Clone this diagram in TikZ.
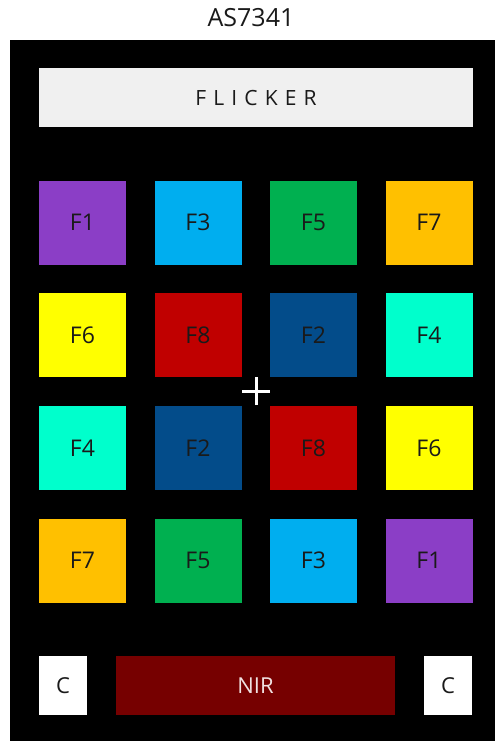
\documentclass[tikz,border=0pt]{standalone}
\usepackage{fontspec}
\setmainfont{Open Sans}
\newfontfamily\spaced[LetterSpace=34]{Open Sans}
\definecolor{cF1}{HTML}{8B3EC6}
\definecolor{cF2}{HTML}{034C8A}
\definecolor{cF3}{HTML}{00AEEF}
\definecolor{cF4}{HTML}{00FFCC}
\definecolor{cF5}{HTML}{00B050}
\definecolor{cF6}{HTML}{FFFF00}
\definecolor{cF7}{HTML}{FFC000}
\definecolor{cF8}{HTML}{C00000}
\definecolor{cNIR}{HTML}{760000}
\definecolor{cFL}{HTML}{F0F0F0}
\definecolor{txt}{HTML}{1A1A1A}
\begin{document}
\begin{tikzpicture}[x=1pt,y=-1pt,
  lab/.style={text height=16pt,text depth=0pt},
  filt/.style={rectangle,inner sep=0pt,minimum width=87pt,minimum height=84pt,text=txt,lab,font=\fontsize{23}{27}\selectfont},
  cbox/.style={rectangle,fill=white,inner sep=0pt,minimum width=48pt,minimum height=59pt,text=txt,lab,font=\fontsize{22}{26}\selectfont}]
\useasboundingbox (0,0) rectangle (495,741);
\fill[white] (0,0) rectangle (495,741);
\node[font=\fontsize{25}{30}\selectfont,text=txt] (title) at (251,18) {AS7341};
\fill[black] (10,40) rectangle (495,741);
\node[rectangle,fill=cFL,inner sep=0pt,minimum width=434pt,minimum height=59pt,text=txt,lab,font=\fontsize{21}{25}\selectfont\spaced] (flicker) at (256,97.5) {FLICKER};
% row 1
\node[filt,fill=cF1] (r1c1) at (82.5,222.5) {F1};
\node[filt,fill=cF3] (r1c2) at (198,222.5) {F3};
\node[filt,fill=cF5] (r1c3) at (313.5,222.5) {F5};
\node[filt,fill=cF7] (r1c4) at (429,222.5) {F7};
% row 2
\node[filt,fill=cF6] (r2c1) at (82.5,335) {F6};
\node[filt,fill=cF8] (r2c2) at (198,335) {F8};
\node[filt,fill=cF2] (r2c3) at (313.5,335) {F2};
\node[filt,fill=cF4] (r2c4) at (429,335) {F4};
% row 3
\node[filt,fill=cF4] (r3c1) at (82.5,448) {F4};
\node[filt,fill=cF2] (r3c2) at (198,448) {F2};
\node[filt,fill=cF8] (r3c3) at (313.5,448) {F8};
\node[filt,fill=cF6] (r3c4) at (429,448) {F6};
% row 4
\node[filt,fill=cF7] (r4c1) at (82.5,560.5) {F7};
\node[filt,fill=cF5] (r4c2) at (198,560.5) {F5};
\node[filt,fill=cF3] (r4c3) at (313.5,560.5) {F3};
\node[filt,fill=cF1] (r4c4) at (429,560.5) {F1};
% centre cross
\coordinate (ctr) at (256,391);
\draw[white,line width=3pt] ([xshift=-14pt]ctr) -- ([xshift=14pt]ctr);
\draw[white,line width=3pt] ([yshift=-14pt]ctr) -- ([yshift=14pt]ctr);
% bottom row
\node[cbox] (cl) at (63,685.5) {C};
\node[rectangle,fill=cNIR,inner sep=0pt,minimum width=279pt,minimum height=59pt,text={rgb,255:red,240;green,225;blue,225},lab,font=\fontsize{22}{26}\selectfont] (nir) at (255.5,685.5) {NIR};
\node[cbox] (cr) at (448,685.5) {C};
\end{tikzpicture}
\end{document}
